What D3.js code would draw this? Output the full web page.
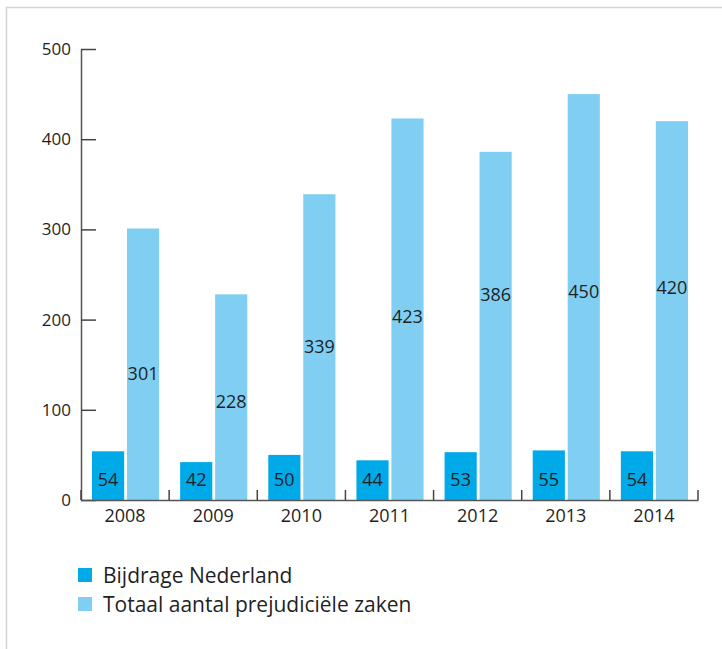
<!DOCTYPE html>
<html>
<head>
<meta charset="utf-8">
<script src="https://cdn.jsdelivr.net/npm/d3@7"></script>
<style>
	body { margin: 0; background: #fff; }
	svg text { font-family: "Open Sans", "Noto Sans", sans-serif; fill: #1f1f1f; }
</style>
</head>
<body>
<div id="chart"></div>
<script>
//chart data
var years = ['2008', '2009', '2010', '2011', '2012', '2013', '2014'];
var bijdrage = [54, 42, 50, 44, 53, 55, 54];
var totaal = [301, 228, 339, 423, 386, 450, 420];
//where the labels of the light bars sit, in axis units
var totaalLabelAt = [140, 109, 170, 203, 228, 231, 235];
var yTicks = [0, 100, 200, 300, 400, 500];
var legendLabels = ['Bijdrage Nederland', 'Totaal aantal prejudiciële zaken'];
var colors = ['#00a9e8', '#80cff3'];

var width = 722, height = 649;

var svg = d3.select('#chart').append('svg')
	.attr('width', width)
	.attr('height', height);

//light frame round the figure
svg.append('path')
	.attr('d', 'M6.5,' + height + 'V7.5H' + width)
	.attr('fill', 'none')
	.attr('stroke', '#d4d4d4')
	.attr('stroke-width', 1.5);

//scales
var x = d3.scaleBand()
	.domain(years)
	.range([81, 698]);

var inner = d3.scaleBand()
	.domain(['bijdrage', 'totaal'])
	.range([11, x.bandwidth() - 10])
	.paddingInner(0.08);

var y = d3.scaleLinear()
	.domain([0, 500])
	.range([500, 49]);

//y axis, ticks pointing into the plot
var yAxis = svg.append('g')
	.attr('transform', 'translate(81,0)')
	.call(d3.axisLeft(y).tickValues(yTicks).tickSizeInner(-15).tickSizeOuter(0).tickPadding(10));
yAxis.selectAll('text').style('font-size', '17px');

//bars
var groups = svg.append('g').selectAll('g')
	.data(years)
	.join('g')
	.attr('transform', function(d) { return 'translate(' + x(d) + ',0)'; });

groups.append('rect')
	.attr('x', inner('bijdrage'))
	.attr('width', inner.bandwidth())
	.attr('y', function(d, i) { return y(bijdrage[i]); })
	.attr('height', function(d, i) { return y(0) - y(bijdrage[i]); })
	.attr('fill', colors[0]);

groups.append('rect')
	.attr('x', inner('totaal'))
	.attr('width', inner.bandwidth())
	.attr('y', function(d, i) { return y(totaal[i]); })
	.attr('height', function(d, i) { return y(0) - y(totaal[i]); })
	.attr('fill', colors[1]);

//value labels
groups.append('text')
	.attr('x', inner('bijdrage') + inner.bandwidth() / 2)
	.attr('y', y(22))
	.attr('dy', '0.35em')
	.attr('text-anchor', 'middle')
	.style('font-size', '18px')
	.text(function(d, i) { return bijdrage[i]; });

groups.append('text')
	.attr('x', inner('totaal') + inner.bandwidth() / 2)
	.attr('y', function(d, i) { return y(totaalLabelAt[i]); })
	.attr('dy', '0.35em')
	.attr('text-anchor', 'middle')
	.style('font-size', '18px')
	.text(function(d, i) { return totaal[i]; });

//x axis: baseline, year labels and small separators between years
var xAxis = svg.append('g')
	.attr('transform', 'translate(0,' + y(0) + ')')
	.call(d3.axisBottom(x).tickSize(0).tickPadding(9));
xAxis.selectAll('text').style('font-size', '18px');

var bounds = years.map(function(d) { return x(d); }).concat([x.range()[1]]);
xAxis.selectAll('.sep')
	.data(bounds)
	.join('line')
	.attr('class', 'sep')
	.attr('x1', function(d) { return d; })
	.attr('x2', function(d) { return d; })
	.attr('y1', 0)
	.attr('y2', -10)
	.attr('stroke', '#444')
	.attr('stroke-width', 1.5);

svg.selectAll('.domain').attr('stroke', '#555').attr('stroke-width', 1.5);
svg.selectAll('.tick line').attr('stroke', '#444').attr('stroke-width', 1.5);

//legend
var legend = svg.append('g')
	.selectAll('g')
	.data(legendLabels)
	.join('g')
	.attr('transform', function(d, i) { return 'translate(78,' + (568 + i * 29) + ')'; });

legend.append('rect')
	.attr('width', 14)
	.attr('height', 14)
	.attr('fill', function(d, i) { return colors[i]; });

legend.append('text')
	.attr('x', 25)
	.attr('y', 15)
	.style('font-size', '21px')
	.text(function(d) { return d; });
</script>
</body>
</html>
